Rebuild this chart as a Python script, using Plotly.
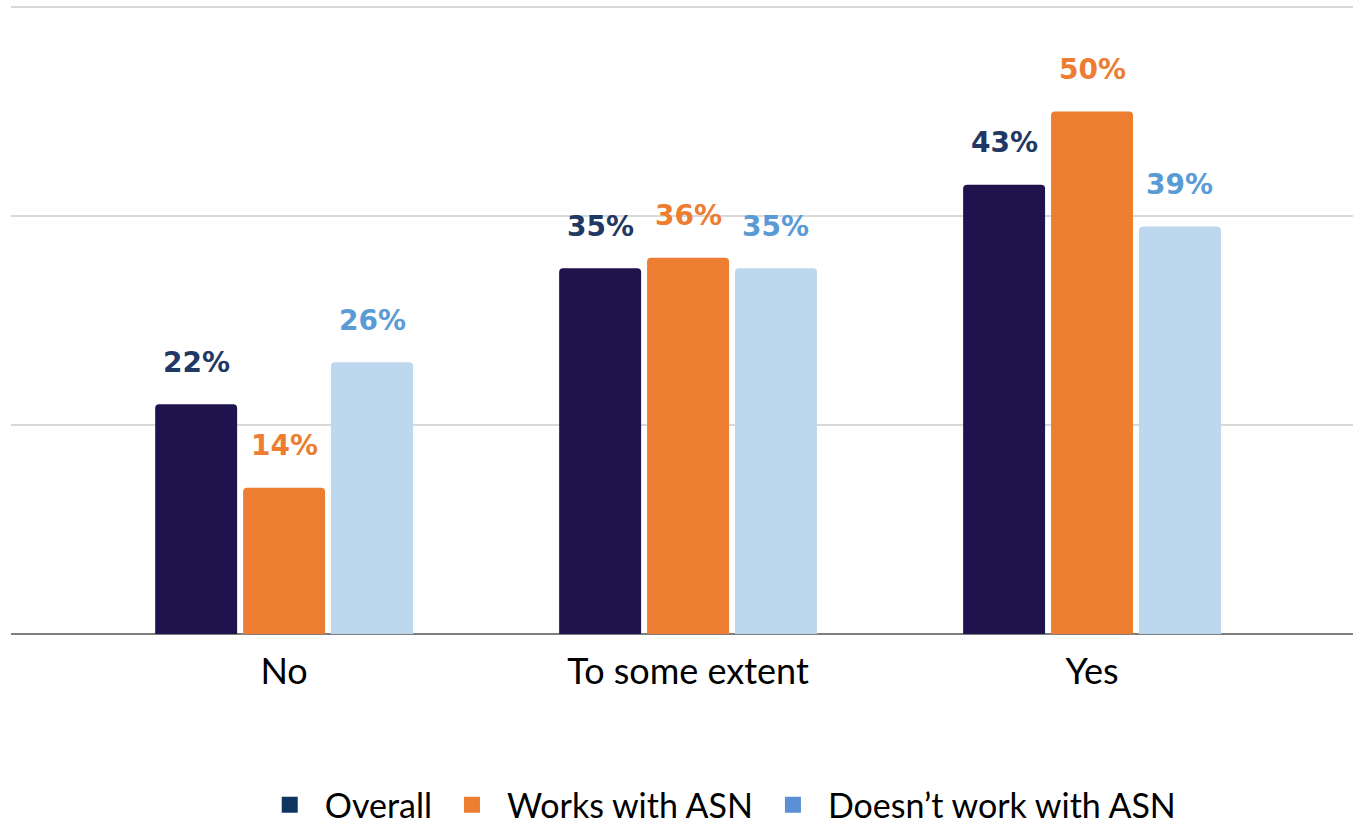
import plotly.graph_objects as go

categories = ["No", "To some extent", "Yes"]
series_names = ["Overall", "Works with ASN", "Doesn\u2019t work with ASN"]
overall = [22, 35, 43]
works_with_asn = [14, 36, 50]
doesnt_work_with_asn = [26, 35, 39]
value_series = [overall, works_with_asn, doesnt_work_with_asn]

bar_colors = ["#20124D", "#ED7D31", "#BDD7EE"]
label_colors = ["#1F3864", "#ED7D31", "#5B9BD5"]
legend_colors = ["#0E3560", "#ED7D31", "#5B8FD6"]

BARGAP = 0.347
GROUPGAP = 0.068

fig = go.Figure()
for name, vals, col in zip(series_names, value_series, bar_colors):
    fig.add_trace(go.Bar(
        x=categories, y=vals, name=name, marker=dict(color=col, line=dict(width=0), cornerradius=4),
        showlegend=False, hoverinfo="skip"))

for name, col in zip(series_names, legend_colors):
    fig.add_trace(go.Scatter(
        x=[None], y=[None], mode="markers", name=name,
        marker=dict(symbol="square", color=col, size=16)))

slot = (1 - BARGAP) / len(value_series)
annotations = []
for k, (vals, col) in enumerate(zip(value_series, label_colors)):
    off = (k - (len(value_series) - 1) / 2) * slot
    for i, v in enumerate(vals):
        annotations.append(dict(
            x=i + off, y=v, xref="x", yref="y", text=f"{v}%", showarrow=False,
            yanchor="middle", yshift=42,
            font=dict(family="DejaVu Sans", size=28, color=col, weight="bold")))

fig.update_layout(
    width=1353, height=828,
    barmode="group", bargap=BARGAP, bargroupgap=GROUPGAP,
    paper_bgcolor="white", plot_bgcolor="white",
    margin=dict(l=11, r=0, t=5, b=194, autoexpand=False),
    annotations=annotations,
    showlegend=True,
    legend=dict(orientation="h", x=0.527, xanchor="center", y=-0.272, yanchor="middle",
                font=dict(family="Lato", size=34, color="#000000"),
                itemsizing="trace", itemwidth=60, traceorder="normal"),
    xaxis=dict(type="category", range=[-0.676, 2.646], showgrid=False, showline=False,
               ticks="outside", ticklen=6, tickcolor="rgba(0,0,0,0)",
               tickfont=dict(family="Lato", size=36, color="#000000"), fixedrange=True),
    yaxis=dict(range=[0, 60.2], dtick=20, showgrid=True, gridcolor="#d9d9d9", gridwidth=2,
               showticklabels=False, zeroline=True, zerolinecolor="#7f7f7f", zerolinewidth=2,
               fixedrange=True),
)

fig.write_html("out.html", config={"displayModeBar": False},
               post_script="document.body.style.margin='0';document.body.style.overflow='hidden';")
